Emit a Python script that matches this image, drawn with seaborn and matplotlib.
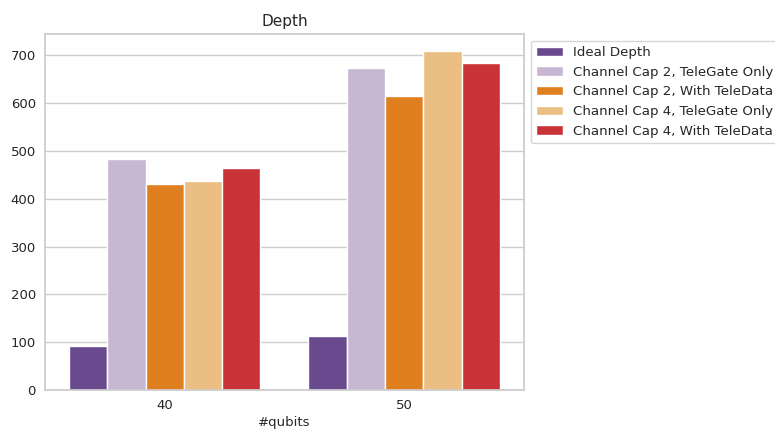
import matplotlib
matplotlib.use("Agg")
import matplotlib.pyplot as plt
import seaborn as sns
import pandas as pd

qubits = ["40", "50"]
series = [
    "Ideal Depth",
    "Channel Cap 2, TeleGate Only",
    "Channel Cap 2, With TeleData",
    "Channel Cap 4, TeleGate Only",
    "Channel Cap 4, With TeleData",
]
ideal_depth = [93, 113]
cap2_telegate = [484, 674]
cap2_teledata = [430, 616]
cap4_telegate = [437, 709]
cap4_teledata = [465, 685]
colors = ["#6a4a8e", "#c8b7d2", "#df7f20", "#ebbe83", "#c93237"]

values = [ideal_depth, cap2_telegate, cap2_teledata, cap4_telegate, cap4_teledata]
rows = []
for name, vals in zip(series, values):
    for q, v in zip(qubits, vals):
        rows.append({"#qubits": q, "Depth": v, "Method": name})
df = pd.DataFrame(rows)

sns.set_theme(style="whitegrid")
plt.rcParams["font.family"] = ["DejaVu Sans"]
plt.rcParams["xtick.labelsize"] = 9.5
plt.rcParams["ytick.labelsize"] = 9.5
plt.rcParams["xtick.major.size"] = 0
plt.rcParams["ytick.major.size"] = 0
plt.rcParams["xtick.major.pad"] = 6.5
plt.rcParams["ytick.major.pad"] = 6.5
plt.rcParams["axes.labelsize"] = 9.5
plt.rcParams["axes.labelpad"] = 3
plt.rcParams["axes.titlesize"] = 11
plt.rcParams["legend.fontsize"] = 9.6

fig, ax = plt.subplots(figsize=(7.75, 4.32), dpi=100)
fig.subplots_adjust(left=0.058, right=0.676, top=0.921, bottom=0.097)

sns.barplot(data=df, x="#qubits", y="Depth", hue="Method", hue_order=series,
            palette=colors, ax=ax, saturation=1, edgecolor="white", linewidth=1)
ax.set_title("Depth")
ax.set_ylabel("")
ax.legend(loc="upper left", bbox_to_anchor=(1.0, 1.0), frameon=True)
fig.savefig("out.png", dpi=100)
